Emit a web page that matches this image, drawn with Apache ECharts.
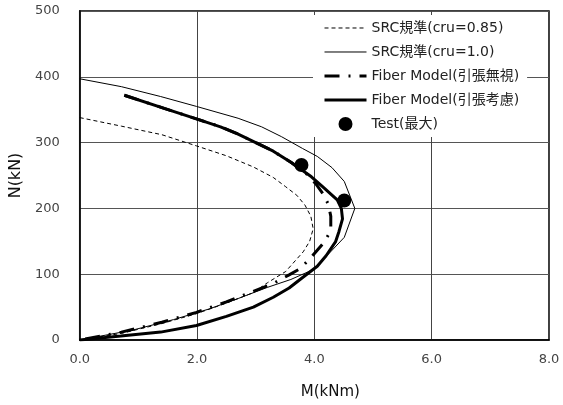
<!DOCTYPE html>
<html>
<head>
<meta charset="utf-8">
<script src="https://cdn.jsdelivr.net/npm/echarts@6/dist/echarts.min.js"></script>
<style>
  html, body { margin: 0; padding: 0; background: #fff; }
  #chart { width: 563px; height: 405px; }
</style>
</head>
<body>
<div id="chart"></div>
<script>
// M (kNm), N (kN) pairs
var src085 = [
    [0, 338], [0.71, 325], [1.4, 312], [1.99, 295], [2.5, 280], [2.96, 263], [3.3, 247],
    [3.51, 233], [3.7, 220], [3.84, 205], [3.94, 188], [3.98, 169], [3.92, 150],
    [3.81, 134], [3.51, 104], [3.2, 87], [2.96, 72], [2.5, 56], [1.99, 40], [1.4, 25],
    [0.71, 10], [0, 0]
];
var src100 = [
    [0, 397], [0.71, 385], [1.38, 370], [1.99, 355], [2.7, 337], [3.1, 324], [3.44, 309],
    [3.8, 291], [4.05, 279], [4.3, 262], [4.51, 241], [4.69, 200], [4.51, 156],
    [4.17, 124], [3.98, 107], [3.6, 92], [3.2, 80], [2.7, 63], [2.2, 47], [1.6, 31],
    [0.9, 15], [0, 0]
];
var fiberNoTension = [
    [0.76, 372], [1.44, 352], [1.99, 336], [2.4, 324], [2.7, 313], [3.0, 300],
    [3.3, 287], [3.6, 270], [3.85, 254], [4.02, 238], [4.15, 222], [4.24, 206],
    [4.28, 188], [4.28, 172], [4.24, 160], [4.17, 149], [3.93, 124], [3.75, 108],
    [3.57, 99], [3.3, 86], [2.96, 74], [2.5, 58], [1.99, 42], [1.4, 27], [0.71, 12], [0, 0]
];
var fiberTension = [
    [0.76, 372], [1.44, 352], [1.99, 336], [2.4, 324], [2.7, 313], [3.0, 300],
    [3.3, 287], [3.6, 270], [3.95, 248], [4.14, 233], [4.39, 213], [4.46, 200], [4.48, 184],
    [4.42, 165], [4.36, 149], [4.2, 128], [4.05, 112], [3.8, 95], [3.57, 79],
    [3.3, 65], [2.96, 50], [2.5, 36], [1.99, 22], [1.38, 12], [0.7, 6], [0, 0]
];
var testMax = [[3.78, 266], [4.51, 212]];

var seriesNames = [
    'SRC規準(cru=0.85)',
    'SRC規準(cru=1.0)',
    'Fiber Model(引張無視)',
    'Fiber Model(引張考慮)',
    'Test(最大)'
];

var font = 'DejaVu Sans, Noto Sans CJK JP, sans-serif';
var hideSymbol = { color: 'rgba(0,0,0,0)', borderWidth: 0 };
var myChart = echarts.init(document.getElementById('chart'));

var option = {
    animation: false,
    backgroundColor: '#fff',
    textStyle: { fontFamily: font },
    grid: {
        left: 77,
        right: 14,
        top: 11,
        bottom: 59,
        show: true,
        borderColor: '#000',
        borderWidth: 1.5
    },
    legend: {
        data: [
            { name: seriesNames[0], itemStyle: hideSymbol, lineStyle: { width: 1 } },
            { name: seriesNames[1], itemStyle: hideSymbol, lineStyle: { width: 1 } },
            { name: seriesNames[2], itemStyle: hideSymbol, lineStyle: { width: 3 } },
            { name: seriesNames[3], itemStyle: hideSymbol, lineStyle: { width: 3 } },
            { name: seriesNames[4] }
        ],
        orient: 'vertical',
        left: 313,
        top: 15,
        padding: [6, 8, 6, 10],
        backgroundColor: '#fff',
        itemWidth: 42,
        itemHeight: 14,
        itemGap: 10,
        textStyle: { fontSize: 14, color: '#222', fontFamily: font }
    },
    xAxis: {
        type: 'value',
        min: 0,
        max: 8,
        interval: 2,
        name: 'M(kNm)',
        nameLocation: 'middle',
        nameGap: 45,
        nameTextStyle: { fontSize: 15, color: '#111', padding: [0, 0, 0, 32] },
        axisLine: { lineStyle: { color: '#000', width: 1.5 } },
        axisTick: { show: false },
        axisLabel: {
            margin: 13,
            fontSize: 13,
            color: '#444',
            formatter: function (v) { return v.toFixed(1); }
        },
        splitLine: { lineStyle: { color: '#444', width: 1 } }
    },
    yAxis: {
        type: 'value',
        min: 0,
        max: 500,
        interval: 100,
        name: 'N(kN)',
        nameLocation: 'middle',
        nameGap: 42,
        nameTextStyle: { fontSize: 16, color: '#111' },
        axisLine: { lineStyle: { color: '#000', width: 1.5 } },
        axisTick: { show: false },
        axisLabel: { margin: 20, fontSize: 13, color: '#444' },
        splitLine: { lineStyle: { color: '#555', width: 1 } }
    },
    series: [{
        name: seriesNames[0],
        type: 'line',
        data: src085,
        symbol: 'none',
        lineStyle: { color: '#000', width: 1, type: [4, 3] },
        itemStyle: { color: '#000' }
    }, {
        name: seriesNames[1],
        type: 'line',
        data: src100,
        symbol: 'none',
        lineStyle: { color: '#000', width: 1 },
        itemStyle: { color: '#000' }
    }, {
        name: seriesNames[2],
        type: 'line',
        data: fiberNoTension,
        symbol: 'none',
        lineStyle: { color: '#000', width: 3, type: [15, 9, 2, 9] },
        itemStyle: { color: '#000' }
    }, {
        name: seriesNames[3],
        type: 'line',
        data: fiberTension,
        symbol: 'none',
        lineStyle: { color: '#000', width: 3 },
        itemStyle: { color: '#000' }
    }, {
        name: seriesNames[4],
        type: 'scatter',
        data: testMax,
        symbol: 'circle',
        symbolSize: 14,
        itemStyle: { color: '#000', opacity: 1 }
    }]
};

myChart.setOption(option);
</script>
</body>
</html>
